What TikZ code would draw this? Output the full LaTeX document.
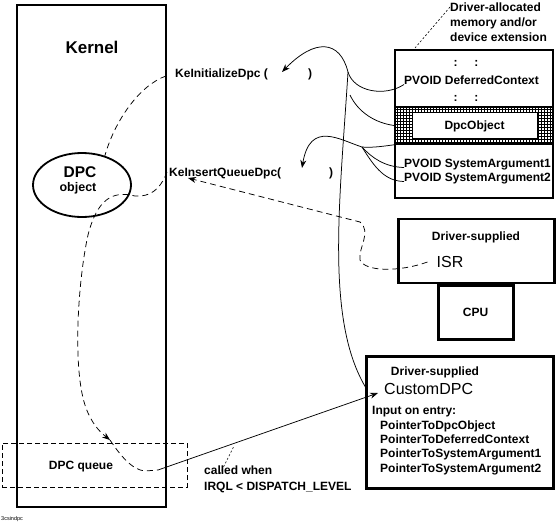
\documentclass[tikz,border=0pt]{standalone}
\usepackage{fontspec}
\setmainfont{Liberation Sans}
\usetikzlibrary{arrows.meta,shapes.geometric,patterns}
\pgfdeclarepatternformonly{fgrid}{\pgfqpoint{-1pt}{-1pt}}{\pgfqpoint{4pt}{4pt}}{\pgfqpoint{3pt}{3pt}}{%
  \pgfsetlinewidth{1.15pt}%
  \pgfpathmoveto{\pgfqpoint{-0.5pt}{1.5pt}}\pgfpathlineto{\pgfqpoint{3.5pt}{1.5pt}}%
  \pgfpathmoveto{\pgfqpoint{1.5pt}{-0.5pt}}\pgfpathlineto{\pgfqpoint{1.5pt}{3.5pt}}%
  \pgfusepath{stroke}}
\tikzset{
  lbl/.style={font=\bfseries\fontsize{12}{14}\selectfont, inner sep=0pt, text height=8.6pt, text depth=0pt},
  bigtxt/.style={font=\fontsize{16}{19}\selectfont, inner sep=0pt, text height=11.5pt, text depth=0pt},
  boxframe/.style={draw, rectangle, inner sep=0pt},
  conn/.style={line width=0.75pt},
  dsh/.style={line width=0.75pt, dash pattern=on 6pt off 4pt},
  arr/.style={-{Stealth[length=8pt,width=6pt]}},
}
\begin{document}
\begin{tikzpicture}[x=1pt, y=-1pt]
\fill[white] (0,0) rectangle (556,525);
\useasboundingbox (0,0) rectangle (556,525);

% Kernel
\node[boxframe, line width=1.8pt, minimum width=149pt, minimum height=502pt] (kernel) at (91.5,256) {};
\node[font=\bfseries\fontsize{17}{20}\selectfont, inner sep=0pt, text height=12.2pt, text depth=0pt] (kerneltxt) at (92,47) {Kernel};

% DPC object
\node[draw, ellipse, line width=1.8pt, minimum width=98pt, minimum height=64pt] (dpc) at (82,185) {};
\node[font=\bfseries\fontsize{15.5}{18}\selectfont, inner sep=0pt, text height=11.1pt, text depth=0pt] (dpct) at (80,172) {DPC};
\node[font=\bfseries\fontsize{12.5}{15}\selectfont, inner sep=0pt] (dpco) at (78,188) {object};

% DPC queue
\node[boxframe, line width=0.8pt, dash pattern=on 5pt off 3pt, minimum width=185pt, minimum height=44pt] (queue) at (94.5,465) {};
\node[lbl] (queuet) at (81,465) {DPC queue};

% Kernel calls
\node[lbl, anchor=west] (kid) at (175,73) {KeInitializeDpc (};
\node[lbl] (kidc) at (310,73) {)};
\node[lbl, anchor=west] (kiq) at (169,172) {KeInsertQueueDpc(};
\node[lbl] (kiqc) at (331,172) {)};

% Driver-allocated memory
\node[lbl, anchor=west] (da1) at (450,7) {Driver-allocated};
\node[lbl, anchor=west] (da2) at (450,22) {memory and/or};
\node[lbl, anchor=west] (da3) at (450,37) {device extension};
\node[boxframe, line width=1.8pt, minimum width=158pt, minimum height=148pt] (mem) at (474,124) {};
\node[boxframe, line width=1.5pt, pattern=fgrid, minimum width=158pt, minimum height=37pt] (hatch) at (474,125.5) {};
\node[boxframe, line width=0.8pt, fill=white, minimum width=125pt, minimum height=26pt, lbl] (dpcobj) at (474.5,125) {DpcObject};
\node[lbl] (col1) at (466,62) {:\hspace{17pt}:};
\node[lbl, anchor=west] (defctx) at (404,80) {PVOID DeferredContext};
\node[lbl] (col2) at (466,97) {:\hspace{17pt}:};
\node[lbl, anchor=west] (sa1) at (404,163) {PVOID SystemArgument1};
\node[lbl, anchor=west] (sa2) at (404,177) {PVOID SystemArgument2};
\coordinate (ldr) at (415,48);
\draw[line width=0.6pt, dash pattern=on 2pt off 2pt] (da1.west) -- (ldr);

% ISR / CPU
\node[boxframe, line width=2.2pt, minimum width=156pt, minimum height=64pt] (isrbox) at (476.5,251) {};
\node[lbl] (isrds) at (476,236) {Driver-supplied};
\node[bigtxt] (isrt) at (450,262) {ISR};
\node[boxframe, line width=3pt, minimum width=75pt, minimum height=54pt, lbl] (cpu) at (475.5,312) {CPU};

% CustomDPC
\node[boxframe, line width=3pt, minimum width=187pt, minimum height=132pt] (cdpc) at (460,422) {};
\node[lbl] (cds) at (435,371) {Driver-supplied};
\node[bigtxt, anchor=west] (cdt) at (384,389) {CustomDPC};
\node[lbl, anchor=west] (inp) at (372,410) {Input on entry:};
\node[lbl, anchor=west] (p1) at (380,425) {PointerToDpcObject};
\node[lbl, anchor=west] (p2) at (380,439) {PointerToDeferredContext};
\node[lbl, anchor=west] (p3) at (380,453) {PointerToSystemArgument1};
\node[lbl, anchor=west] (p4) at (380,468) {PointerToSystemArgument2};

% called when
\node[lbl, anchor=west] (cw1) at (204,470) {called when};
\node[lbl, anchor=west] (cw2) at (204,486) {IRQL < DISPATCH\_LEVEL};

\node[font=\fontsize{5.5}{6}\selectfont, inner sep=0pt, anchor=west] (fig) at (1,519) {3csindpc};

% coordinates for connectors
\coordinate (kidk) at (166,76);
\coordinate (kiqk) at (167,172);
\coordinate (kidarr) at (282,72);
\coordinate (kiqarr) at (302,168);
\coordinate (israrr) at (188,178);
\coordinate (j1) at (348,72);
\coordinate (j2) at (350,95);
\coordinate (k) at (362,147);
\coordinate (cin) at (366,388);
\coordinate (cdarr) at (378,393);
\coordinate (qarr) at (110,440);
\coordinate (qend) at (158,470);

% dashed kernel connectors
\draw[dsh] (kidk) .. controls (140,85) and (115,120) .. (dpc.52);
\draw[dsh, arr] (kiqk) .. controls (160,190) and (150,197) .. (135,196)
   .. controls (112,190) and (97,200) .. (88,235)
   .. controls (78,280) and (72,370) .. (86,408)
   .. controls (92,424) and (100,432) .. (qarr);
\draw[dsh] (qarr) .. controls (120,455) and (132,470) .. (145,471) -- (qend);
\draw[conn, arr] (qend) -- (cdarr);
\draw[line width=0.6pt, dash pattern=on 2pt off 2pt] ([xshift=16pt,yshift=-4pt]cw1.west) -- (234,446);

% ISR to KeInsertQueueDpc
\draw[dsh, arr] ([xshift=-9pt]isrt.west) .. controls (400,272) and (365,272) .. (360,260)
   .. controls (358,248) and (372,232) .. (360,222) -- (israrr);

% memory connectors
\draw[conn, arr] (defctx.south west) .. controls (385,97) and (354,92) .. (j1)
   .. controls (340,40) and (315,38) .. (kidarr);
\draw[conn] (hatch.west) .. controls (375,123) and (358,112) .. (j2);
\draw[conn] (j1) .. controls (340,200) and (325,320) .. (cin);
\draw[conn, arr] (hatch.south west) .. controls (385,146) and (372,148) .. (k)
   .. controls (340,140) and (310,120) .. (kiqarr);
\draw[conn] (k) .. controls (372,158) and (385,167) .. (sa1.south west);
\draw[conn] (k) .. controls (375,168) and (385,181) .. (sa2.south west);
\end{tikzpicture}
\end{document}
